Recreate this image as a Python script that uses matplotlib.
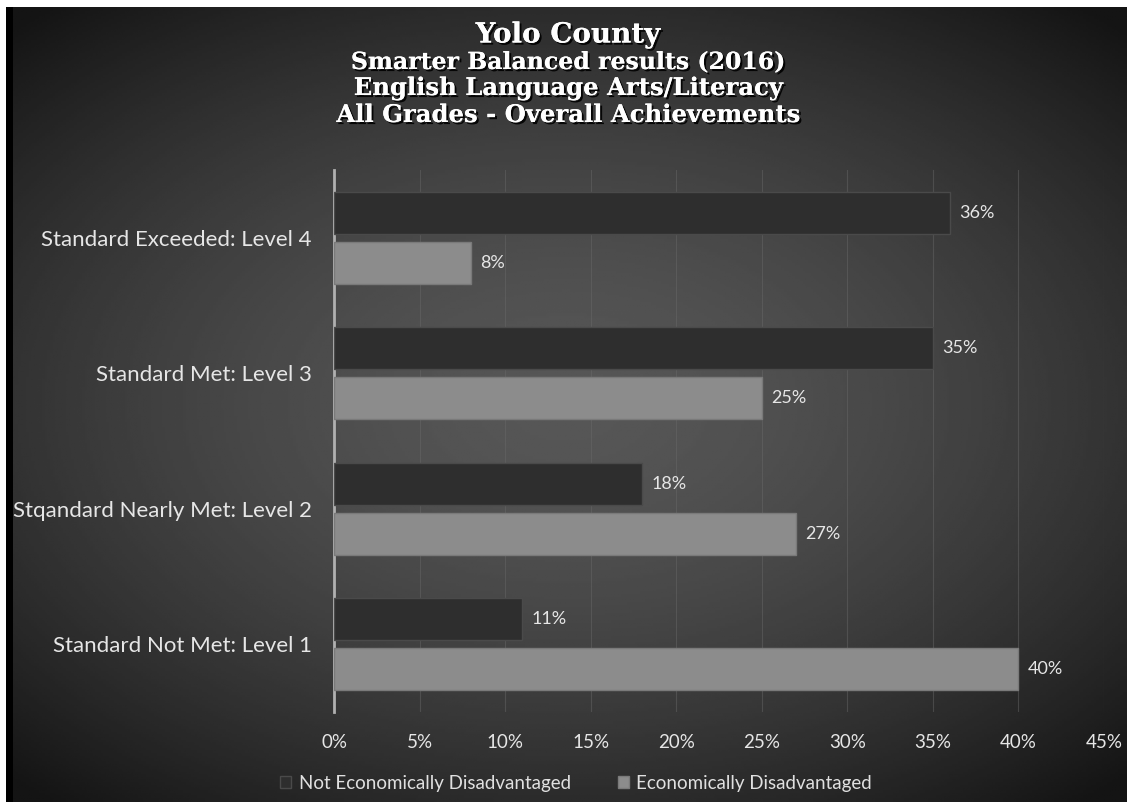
import numpy as np
import matplotlib
matplotlib.use('Agg')
import matplotlib.pyplot as plt
import matplotlib.patheffects as pe
from matplotlib.patches import Rectangle

# data
categories = ['Standard Not Met: Level 1', 'Stqandard Nearly Met: Level 2',
              'Standard Met: Level 3', 'Standard Exceeded: Level 4']
not_disadv = [11, 18, 35, 36]
econ_disadv = [40, 27, 25, 8]
series_names = ['Not Economically Disadvantaged', 'Economically Disadvantaged']
x_ticks = [0, 5, 10, 15, 20, 25, 30, 35, 40, 45]
title_lines = ['Yolo County', 'Smarter Balanced results (2016)',
               'English Language Arts/Literacy', 'All Grades - Overall Achievements']

W, H = 1127, 802
fig = plt.figure(figsize=(W / 100, H / 100), dpi=100, facecolor='white')

# dark radial-gradient background
bg = fig.add_axes([6 / W, 0, 1 - 6 / W, 1 - 7 / H])
bg.set_axis_off()
yy, xx = np.mgrid[-1:1:300j, -1:1:420j]
r = np.sqrt((xx * 0.9) ** 2 + (yy * 1.0) ** 2)
shade = np.clip(0.34 - 0.17 * r ** 1.6, 0.08, 1)
bg.imshow(shade, cmap='gray', vmin=0, vmax=1, aspect='auto', extent=[0, 1, 0, 1])
bg.set_xlim(0, 1)
bg.set_ylim(0, 1)
fig.patches.append(Rectangle((6 / W, 0), 7 / W, 1 - 7 / H, transform=fig.transFigure,
                             facecolor='black', edgecolor='none', zorder=1))

ax = fig.add_axes([334 / W, 1 - 712 / H, (1104 - 334) / W, (712 - 170) / H])
ax.patch.set_alpha(0)

y = np.arange(len(categories))
h = 0.31
off = 0.185
dark_col = '#2e2e2e'
light_col = '#8c8c8c'
b1 = ax.barh(y + off, not_disadv, height=h, color=dark_col, edgecolor='#4a4a4a',
             linewidth=1, zorder=3, label=series_names[0])
b2 = ax.barh(y - off, econ_disadv, height=h, color=light_col, edgecolor='#7a7a7a',
             linewidth=1, zorder=3, label=series_names[1])

for bars, vals in ((b1, not_disadv), (b2, econ_disadv)):
    for bar, v in zip(bars, vals):
        ax.text(v + 0.55, bar.get_y() + bar.get_height() / 2, f'{v}%',
                va='center', ha='left', color='#e6e6e6', fontsize=13, family='Lato',
                zorder=4)

ax.set_xlim(0, 45)
ax.set_ylim(-0.5, 3.5)
ax.set_xticks(x_ticks)
ax.set_xticklabels([f'{t}%' for t in x_ticks])
ax.set_yticks(y)
ax.set_yticklabels(categories)
ax.tick_params(axis='x', length=0, pad=16, labelcolor='#e6e6e6', labelsize=13.5)
ax.tick_params(axis='y', length=0, pad=16, labelcolor='#e6e6e6', labelsize=16)
for lab in ax.get_xticklabels() + ax.get_yticklabels():
    lab.set_family('Lato')

ax.grid(axis='x', color='#6a6a6a', linewidth=0.8, alpha=0.45, zorder=0)
for s in ('top', 'right', 'bottom'):
    ax.spines[s].set_visible(False)
ax.spines['left'].set_color('#b0b0b0')
ax.spines['left'].set_linewidth(2)

# title with shadow
ys = [1 - 35 / H, 1 - 62 / H, 1 - 88 / H, 1 - 115 / H]
sizes = [20, 17, 17.5, 17.5]
for t, yp, fs in zip(title_lines, ys, sizes):
    fig.text(568 / W, yp, t, ha='center', va='center', color='white', fontsize=fs,
             family='DejaVu Serif', fontweight='bold',
             path_effects=[pe.withSimplePatchShadow(offset=(1.5, -1.5), shadow_rgbFace='black',
                                                     alpha=0.9), pe.Normal()])

leg = fig.legend(handles=[b1, b2], labels=series_names, loc='center',
                 bbox_to_anchor=(576 / W, 1 - 783 / H), ncol=2, frameon=False,
                 handlelength=0.6, handleheight=0.6, columnspacing=2.5, handletextpad=0.4,
                 prop={'family': 'Lato', 'size': 13.5})
for txt in leg.get_texts():
    txt.set_color('#e0e0e0')

fig.savefig('out.png', dpi=100, facecolor='white')
